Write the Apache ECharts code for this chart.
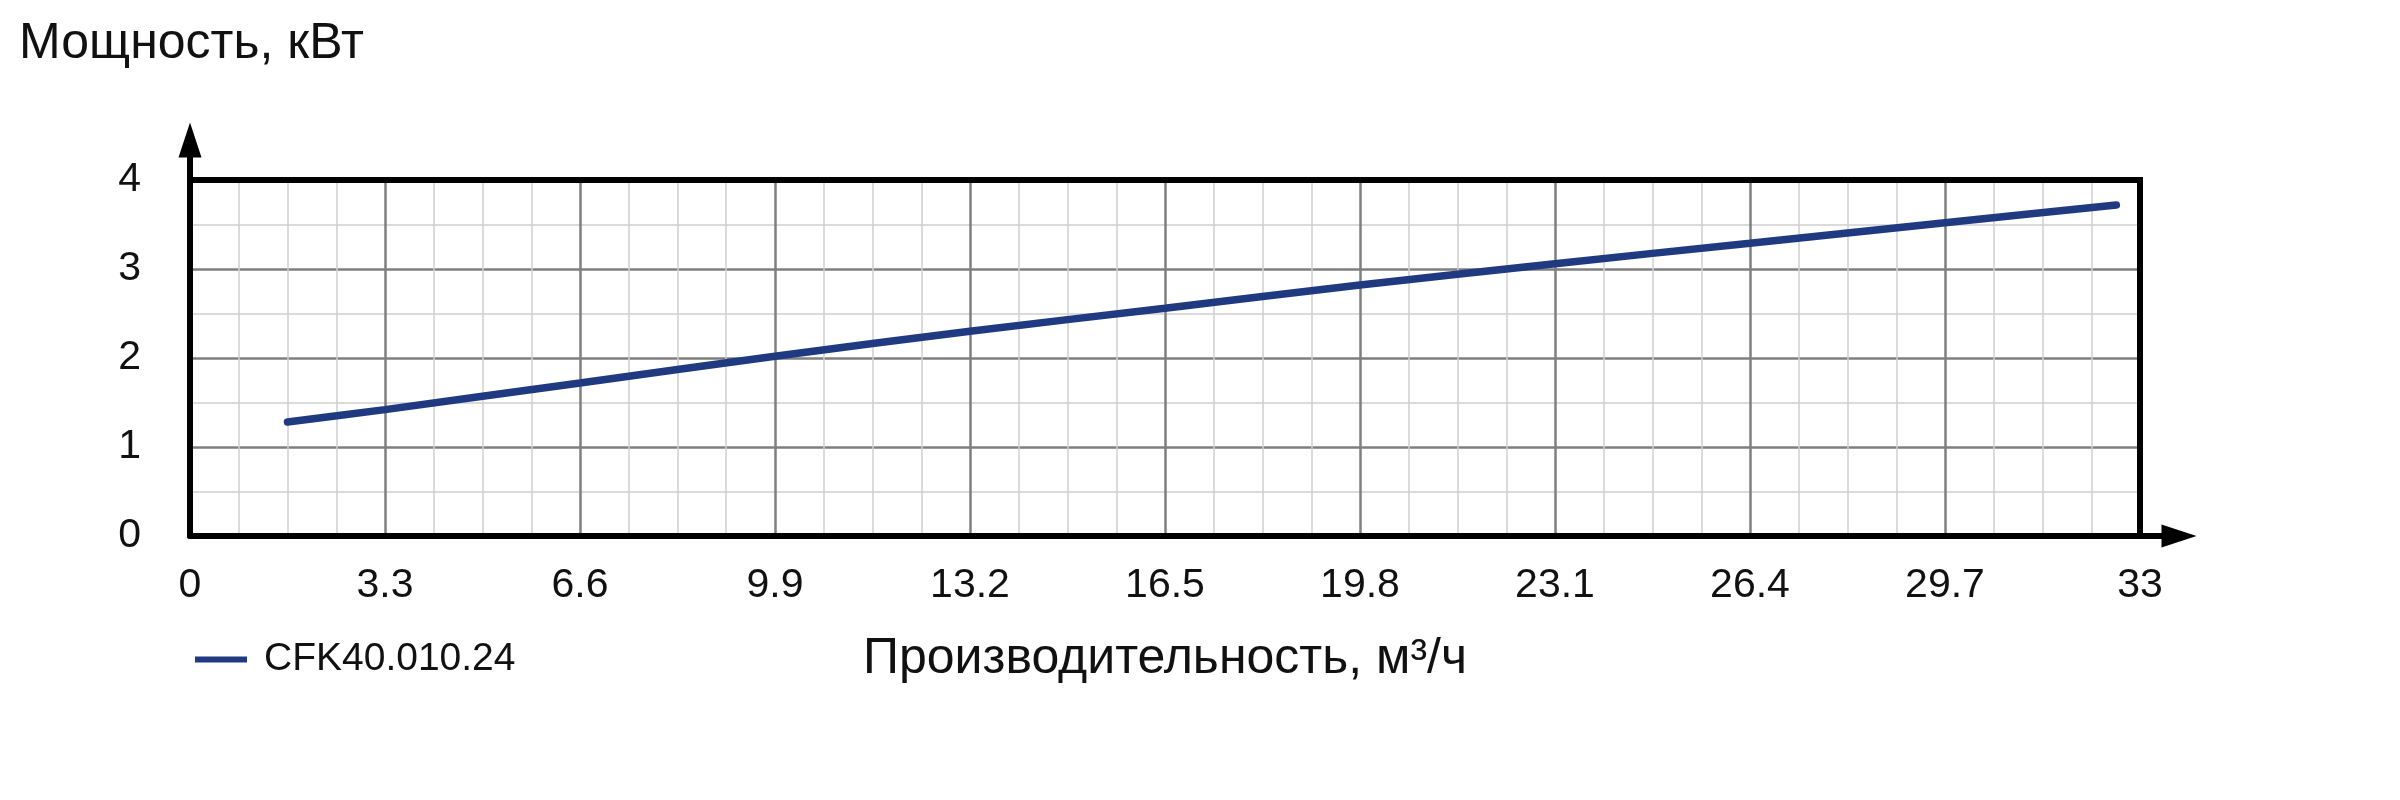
<!DOCTYPE html>
<html><head><meta charset="utf-8">
<script src="https://cdn.jsdelivr.net/npm/echarts@6/dist/echarts.min.js"></script>
<style>html,body{margin:0;padding:0;background:#fff}#c{width:2400px;height:800px}</style>
</head><body><div id="c"></div>
<script>
const seriesName = 'CFK40.010.24';
const flowValues = [1.65, 3.3, 6.6, 9.9, 13.2, 16.5, 19.8, 23.1, 26.4, 29.7, 32.6];
const powerValues = [1.28, 1.42, 1.72, 2.02, 2.30, 2.56, 2.82, 3.06, 3.29, 3.52, 3.72];
const xTickLabels = ['0','3.3','6.6','9.9','13.2','16.5','19.8','23.1','26.4','29.7','33'];
const yTickLabels = ['0','1','2','3','4'];
const xTitle = 'Производительность, м³/ч';
const yTitle = 'Мощность, кВт';

const FONT = '"Liberation Sans", Arial, sans-serif';
const arrowPath = 'path://M11.5,0 L23,35 L14.5,35 L14.5,57 L8.5,57 L8.5,35 L0,35 Z';
const data = flowValues.map((x, i) => [x, powerValues[i]]);

const chart = echarts.init(document.getElementById('c'));
chart.setOption({
  animation: false,
  backgroundColor: '#fff',
  title: {
    text: yTitle, left: 19, top: 19, padding: 0,
    textStyle: { fontFamily: FONT, fontSize: 50, fontWeight: 'normal', color: '#111' }
  },
  legend: {
    left: 190, top: 635, icon: 'rect', itemWidth: 52, itemHeight: 6,
    data: [seriesName],
    textStyle: { fontFamily: FONT, fontSize: 39, color: '#111', padding: [0, 0, 12, 12] }
  },
  grid: { left: 190, top: 180, width: 1950, height: 356, containLabel: false },
  xAxis: [{
    type: 'value', min: 0, max: 33, interval: 3.3,
    name: xTitle, nameLocation: 'middle', nameGap: 98,
    nameTextStyle: { fontFamily: FONT, fontSize: 50, color: '#111' },
    axisLine: { show: true, onZero: false, symbol: ['none', arrowPath], symbolSize: [23, 57], symbolOffset: [0, 28],
      lineStyle: { color: '#000', width: 6 } },
    axisTick: { show: false },
    axisLabel: { margin: 29, fontFamily: FONT, fontSize: 41, color: '#111',
      formatter: v => xTickLabels[Math.round(v / 3.3)] },
    splitLine: { show: true, lineStyle: { color: '#7f7f7f', width: 2.5 } },
    minorTick: { show: false, splitNumber: 4 },
    minorSplitLine: { show: true, lineStyle: { color: '#d0d0d0', width: 1.5 } }
  }, {
    type: 'value', min: 0, max: 33, position: 'top',
    axisLine: { show: true, onZero: false, lineStyle: { color: '#000', width: 6, cap: 'square' } },
    axisTick: { show: false }, axisLabel: { show: false }, splitLine: { show: false }
  }],
  yAxis: [{
    type: 'value', min: 0, max: 4, interval: 1,
    axisLine: { show: true, onZero: false, symbol: ['none', arrowPath], symbolSize: [23, 57], symbolOffset: [0, 29],
      lineStyle: { color: '#000', width: 6 } },
    axisTick: { show: false },
    axisLabel: { margin: 49, fontFamily: FONT, fontSize: 41, color: '#111',
      formatter: v => yTickLabels[Math.round(v)] },
    splitLine: { show: true, lineStyle: { color: '#7f7f7f', width: 2.5 } },
    minorTick: { show: false, splitNumber: 2 },
    minorSplitLine: { show: true, lineStyle: { color: '#d0d0d0', width: 1.5 } }
  }, {
    type: 'value', min: 0, max: 4, position: 'right',
    axisLine: { show: true, onZero: false, lineStyle: { color: '#000', width: 6, cap: 'square' } },
    axisTick: { show: false }, axisLabel: { show: false }, splitLine: { show: false }
  }],
  series: [{
    name: seriesName, type: 'line', data: data, xAxisIndex: 0, yAxisIndex: 0,
    showSymbol: false, smooth: 0.3, color: '#1f3a80',
    lineStyle: { width: 7.5, color: '#1f3a80', cap: 'round' },
    itemStyle: { color: '#1f3a80' }
  }]
});
</script></body></html>
